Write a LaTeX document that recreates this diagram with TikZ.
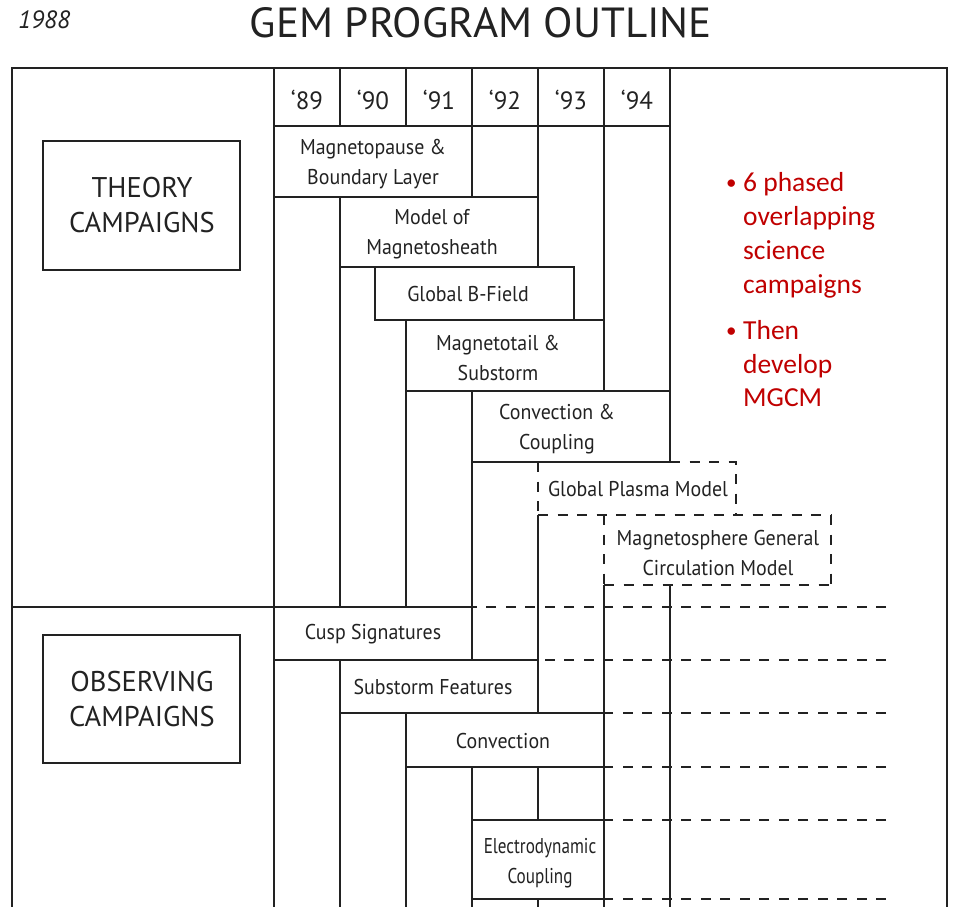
\documentclass[tikz,border=0pt]{standalone}
\usepackage{fontspec}
\usepackage{graphicx}
\setmainfont{PT Sans}
\newfontfamily\lblf[FakeStretch=0.93]{PT Sans}
\newfontfamily\lblnarrow[FakeStretch=0.80]{PT Sans}
\newfontfamily\redf{Carlito}
\definecolor{ink}{HTML}{222222}
\definecolor{redt}{HTML}{C00000}
\begin{document}
\begin{tikzpicture}[x=1pt,y=-1pt,
  ln/.style={line width=2pt,draw=ink},
  dl/.style={line width=2pt,draw=ink,dash pattern=on 10pt off 9.5pt},
  lbl/.style={font=\lblf\fontsize{21.4}{29.5}\selectfont,text=ink,align=center,inner sep=0pt},
  yr/.style={font=\fontsize{25}{30}\selectfont,text=ink,inner sep=0pt},
  cat/.style={font=\fontsize{28.5}{35}\selectfont,text=ink,align=center,inner sep=0pt},
  redl/.style={font=\redf\fontsize{27.5}{34}\selectfont,text=redt,anchor=base west,inner sep=0pt},
  bul/.style={font=\redf\fontsize{21}{24}\selectfont,text=redt,anchor=base west,inner sep=0pt}]
\useasboundingbox (0,0) rectangle (961,907);

% title and year
\node[anchor=base,inner sep=0pt,text=ink] (title) at (481,38) {\resizebox{462pt}{30pt}{GEM PROGRAM OUTLINE}};
\node[anchor=base west,inner sep=0pt,text=ink,font=\itshape\fontsize{25}{28}\selectfont] (year) at (18,29) {1988};

% outer frame
\draw[ln,line width=2.5pt] (12,912)--(12,68)--(947,68)--(947,912);

% category boxes
\draw[ln] (43,141) rectangle (240,270);
\node[cat] (theory) at (142,205) {THEORY\\CAMPAIGNS};
\draw[ln] (43,635) rectangle (240,763);
\node[cat] (observ) at (142,699) {OBSERVING\\CAMPAIGNS};

% header of years
\draw[ln] (274,68) rectangle (670,126);
\foreach \x in {340,406,472,538,604} \draw[ln] (\x,68)--(\x,126);
\foreach \t/\x in {89/307,90/373,91/439,92/505,93/571,94/637}
  \node[yr] (y\t) at (\x,100) {‘\t};

% theory campaign bars
\draw[ln] (274,126) rectangle (472,197);
\draw[ln] (340,197) rectangle (538,267);
\draw[ln] (375,267) rectangle (574,320);
\draw[ln] (406,320) rectangle (604,391);
\draw[ln] (472,391) rectangle (670,462);

% dashed model boxes
\draw[dl] (538,462)--(538,515);
\draw[dl] (670,462)--(736,462)--(736,515);
\draw[dl] (538,515)--(831,515);
\draw[dl] (604,515)--(604,585);
\draw[dl] (831,515)--(831,585);
\draw[dl] (604,585)--(831,585);

% column lines
\draw[ln] (274,126)--(274,912);
\draw[ln] (340,267)--(340,607);
\draw[ln] (340,660)--(340,912);
\draw[ln] (406,391)--(406,607);
\draw[ln] (406,713)--(406,912);
\draw[ln] (472,462)--(472,660);
\draw[ln] (472,767)--(472,912);
\draw[ln] (538,126)--(538,197);
\draw[ln] (538,515)--(538,713);
\draw[ln] (538,767)--(538,820);
\draw[ln] (538,899)--(538,912);
\draw[ln] (604,126)--(604,320);
\draw[ln] (604,585)--(604,912);
\draw[ln] (670,126)--(670,391);
\draw[ln] (670,585)--(670,912);

% separator
\draw[ln] (12,607)--(472,607);

% observing campaign bars
\draw[ln] (274,607) rectangle (472,660);
\draw[ln] (340,660) rectangle (538,713);
\draw[ln] (406,713) rectangle (604,767);
\draw[ln] (472,820) rectangle (604,899);

% dashed continuation lines (drawn from the right end so the dashes line up)
\draw[dl] (886,607)--(472,607);
\draw[dl] (886,660)--(538,660);
\foreach \y in {713,767,820,899} \draw[dl] (886,\y)--(604,\y);

% labels
\node[lbl] (mp) at (373,164) {Magnetopause \&\\Boundary Layer};
\node[lbl] (ms) at (432,234) {Model of\\Magnetosheath};
\node[lbl] (gb) at (468,294) {Global B-Field};
\node[lbl] (mt) at (498,358) {Magnetotail \&\\Substorm};
\node[lbl] (cc) at (557,429) {Convection \&\\Coupling};
\node[lbl] (gpm) at (638,489) {Global Plasma Model};
\node[lbl] (mgcm) at (718,553) {Magnetosphere General\\Circulation Model};
\node[lbl] (cs) at (373,634) {Cusp Signatures};
\node[lbl] (sf) at (433,687) {Substorm Features};
\node[lbl] (cv) at (503,741) {Convection};
\node[lbl,font=\lblnarrow\fontsize{21.4}{29.5}\selectfont] (ec) at (540,863) {Electrodynamic\\Coupling};

% red notes
\node[bul] (b1) at (726,189) {•};
\node[bul] (b2) at (726,337) {•};
\foreach \t/\y [count=\i] in {6 phased/191,overlapping/225,science/259,campaigns/293,Then/339,develop/373,MGCM/406}
  \node[redl] (r\i) at (743,\y) {\t};
\end{tikzpicture}
\end{document}
